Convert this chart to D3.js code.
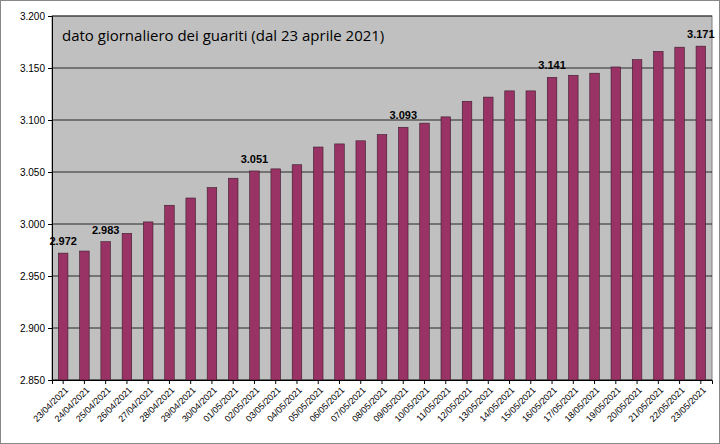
<!DOCTYPE html>
<html><head><meta charset="utf-8">
<script src="https://cdn.jsdelivr.net/npm/d3@7"></script>
<style>body{margin:0;background:#fff}svg{font-family:"Liberation Sans",Arial,sans-serif}</style>
</head><body><svg id="c" width="720" height="444"></svg>
<script>
const dates = ["23/04/2021","24/04/2021","25/04/2021","26/04/2021","27/04/2021","28/04/2021","29/04/2021","30/04/2021","01/05/2021","02/05/2021","03/05/2021","04/05/2021","05/05/2021","06/05/2021","07/05/2021","08/05/2021","09/05/2021","10/05/2021","11/05/2021","12/05/2021","13/05/2021","14/05/2021","15/05/2021","16/05/2021","17/05/2021","18/05/2021","19/05/2021","20/05/2021","21/05/2021","22/05/2021","23/05/2021"];
const guariti = [2.972,2.974,2.983,2.991,3.002,3.018,3.025,3.035,3.044,3.051,3.053,3.057,3.074,3.077,3.080,3.086,3.093,3.097,3.103,3.118,3.122,3.128,3.128,3.141,3.143,3.145,3.151,3.158,3.166,3.170,3.171];
const labelled = [0,2,9,16,23,30];
const yTicks = d3.range(2.85, 3.2001, 0.05);
const fmt = v => d3.format(".3f")(v).replace(".", ".");

const svg = d3.select("#c");
svg.append("rect").attr("x",0.5).attr("y",0.5).attr("width",719).attr("height",443).attr("fill","#fff").attr("stroke","#888");
const m = {l:52, r:712, t:16, b:380};
const x = d3.scaleBand().domain(dates).range([m.l, m.r]).paddingInner(0.55).paddingOuter(0.3);
const y = d3.scaleLinear().domain([2.85, 3.2]).range([m.b, m.t]);

svg.append("rect").attr("x",m.l).attr("y",m.t).attr("width",m.r-m.l).attr("height",m.b-m.t).attr("fill","#c0c0c0").attr("stroke","#808080");
svg.append("g").selectAll("line").data(yTicks).join("line")
  .attr("x1",m.l).attr("x2",m.r).attr("y1",d=>y(d)).attr("y2",d=>y(d)).attr("stroke","#000").attr("stroke-width",0.8);

const ya = svg.append("g").attr("transform",`translate(${m.l},0)`)
  .call(d3.axisLeft(y).tickValues(yTicks).tickFormat(fmt).tickSize(4));
ya.selectAll("text").attr("font-size",10).attr("fill","#000");
ya.select(".domain").attr("stroke","#000");

svg.append("g").selectAll("rect").data(guariti).join("rect")
  .attr("x",(d,i)=>x(dates[i])).attr("width",x.bandwidth())
  .attr("y",d=>y(d)).attr("height",d=>m.b-y(d))
  .attr("fill","#993366").attr("stroke","#3a1a2a").attr("stroke-width",0.6);

svg.append("g").selectAll("text").data(labelled).join("text")
  .attr("x",i=>x(dates[i])+x.bandwidth()/2).attr("y",i=>y(guariti[i])-8)
  .attr("text-anchor","middle").attr("font-size",11).attr("font-weight","bold").text(i=>fmt(guariti[i]));

const xa = svg.append("g").attr("transform",`translate(0,${m.b})`)
  .call(d3.axisBottom(x).tickSize(4));
xa.select(".domain").attr("stroke","#000");
xa.selectAll("text").attr("font-size",9).attr("fill","#000")
  .attr("text-anchor","end").attr("transform","rotate(-45)").attr("dx","-0.4em").attr("dy","0.5em");

svg.append("text").attr("x",62).attr("y",41).attr("font-size",15).attr("font-family","'Open Sans',sans-serif")
  .text("dato giornaliero dei guariti (dal 23 aprile 2021)");
</script></body></html>
